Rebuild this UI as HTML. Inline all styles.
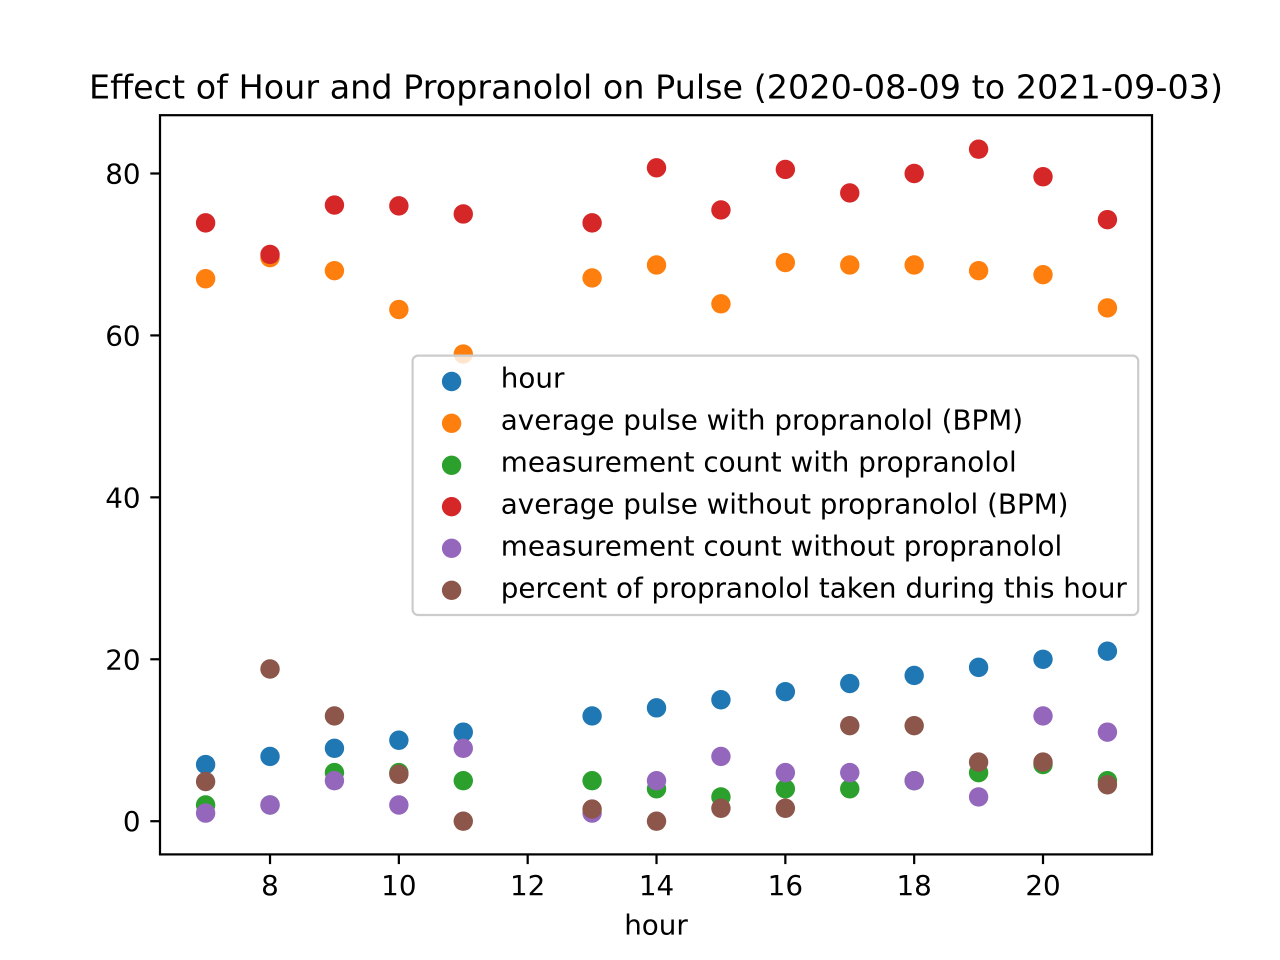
<!DOCTYPE html>
<html lang="en">
<head>
<meta charset="utf-8">
<title>Effect of Hour and Propranolol on Pulse</title>
<style>
  html, body { margin: 0; padding: 0; background: #fff; }
  svg { display: block; }
  text { font-family: "DejaVu Sans", "Liberation Sans", sans-serif; fill: #000; }
</style>
</head>
<body>
<svg id="chart" xmlns="http://www.w3.org/2000/svg" width="1280" height="960" viewBox="0 0 1280 960">
  <rect x="0" y="0" width="1280" height="960" fill="#fff"/>
  <text x="656" y="98.5" font-size="33.33" text-anchor="middle" textLength="1134" lengthAdjust="spacing">Effect of Hour and Propranolol on Pulse (2020-08-09 to 2021-09-03)</text>
  <g id="ticks"></g>
  <g id="marks"></g>
  <rect x="160" y="115.2" width="992" height="739.2" fill="none" stroke="#000" stroke-width="2.22"/>
  <text x="656" y="934.5" font-size="27.78" text-anchor="middle">hour</text>

  <g>
    <rect x="412.6" y="355.6" width="725.6" height="259.4" rx="5.5" ry="5.5" fill="#fff" fill-opacity="0.8" stroke="#cccccc" stroke-width="2.22"/>
    <g>
      <circle cx="451.6" cy="381.5" r="9.7" fill="#1f77b4"/>
      <text x="500.8" y="387.6" font-size="27.78">hour</text>
    </g>
    <g>
      <circle cx="451.6" cy="423.3" r="9.7" fill="#ff7f0e"/>
      <text x="500.8" y="429.6" font-size="27.78">average pulse with propranolol (BPM)</text>
    </g>
    <g>
      <circle cx="451.6" cy="465.3" r="9.7" fill="#2ca02c"/>
      <text x="500.8" y="471.6" font-size="27.78">measurement count with propranolol</text>
    </g>
    <g>
      <circle cx="451.6" cy="506.7" r="9.7" fill="#d62728"/>
      <text x="500.8" y="513.6" font-size="27.78">average pulse without propranolol (BPM)</text>
    </g>
    <g>
      <circle cx="451.6" cy="548.3" r="9.7" fill="#9467bd"/>
      <text x="500.8" y="555.6" font-size="27.78">measurement count without propranolol</text>
    </g>
    <g>
      <circle cx="451.6" cy="590.3" r="9.7" fill="#8c564b"/>
      <text x="500.8" y="597.6" font-size="27.78">percent of propranolol taken during this hour</text>
    </g>
  </g>
</svg>
<script>
const hours = [7, 8, 9, 10, 11, 13, 14, 15, 16, 17, 18, 19, 20, 21];
const hourValues = [7, 8, 9, 10, 11, 13, 14, 15, 16, 17, 18, 19, 20, 21];
const pulseWith = [67, 69.6, 68, 63.2, 57.7, 67.1, 68.7, 63.9, 69, 68.7, 68.7, 68, 67.5, 63.4];
const countWith = [2, 2, 6, 6, 5, 5, 4, 3, 4, 4, 5, 6, 7, 5];
const pulseWithout = [73.9, 70, 76.1, 76, 75, 73.9, 80.7, 75.5, 80.5, 77.6, 80, 83, 79.6, 74.3];
const countWithout = [1, 2, 5, 2, 9, 1, 5, 8, 6, 6, 5, 3, 13, 11];
const percentTaken = [4.9, 18.8, 13, 5.8, 0, 1.5, 0, 1.6, 1.6, 11.8, 11.8, 7.3, 7.3, 4.5];
const xTickLabels = [8, 10, 12, 14, 16, 18, 20];
const yTickLabels = [0, 20, 40, 60, 80];

const NS = 'http://www.w3.org/2000/svg';
const plot = { left: 160, right: 1152, top: 115.2, bottom: 854.4 };
const xDomain = [6.292, 21.692];
const yDomain = [-4.1, 87.2];

function xScale(v) {
  return plot.left + (v - xDomain[0]) / (xDomain[1] - xDomain[0]) * (plot.right - plot.left);
}
function yScale(v) {
  return plot.bottom - (v - yDomain[0]) / (yDomain[1] - yDomain[0]) * (plot.bottom - plot.top);
}
function make(tag, attrs) {
  const el = document.createElementNS(NS, tag);
  for (const k in attrs) el.setAttribute(k, attrs[k]);
  return el;
}

const ticksGroup = document.getElementById('ticks');
xTickLabels.forEach(function (t) {
  const x = xScale(t);
  const line = make('line', { x1: x, x2: x, y1: plot.bottom, y2: plot.bottom + 9.7, stroke: '#000', 'stroke-width': 2.22 });
  
  
  ticksGroup.appendChild(line);
  const label = make('text', { x: x, y: 895, 'font-size': 27.78, 'text-anchor': 'middle' });
  
  
  label.textContent = String(t);
  ticksGroup.appendChild(label);
});
yTickLabels.forEach(function (t) {
  const y = yScale(t);
  const line = make('line', { x1: plot.left - 9.7, x2: plot.left, y1: y, y2: y, stroke: '#000', 'stroke-width': 2.22 });
  
  
  ticksGroup.appendChild(line);
  const label = make('text', { x: 140.6, y: y + 10, 'font-size': 27.78, 'text-anchor': 'end' });
  
  
  label.textContent = String(t);
  ticksGroup.appendChild(label);
});

const marksGroup = document.getElementById('marks');
function drawSeries(values, color, seriesName) {
  values.forEach(function (v, i) {
    const dot = make('circle', { cx: xScale(hours[i]), cy: yScale(v), r: 9.7, fill: color });
    
    
    marksGroup.appendChild(dot);
  });
}
drawSeries(hourValues, '#1f77b4', 'hour');
drawSeries(pulseWith, '#ff7f0e', 'pulse-with');
drawSeries(countWith, '#2ca02c', 'count-with');
drawSeries(pulseWithout, '#d62728', 'pulse-without');
drawSeries(countWithout, '#9467bd', 'count-without');
drawSeries(percentTaken, '#8c564b', 'percent-taken');
</script>
</body>
</html>
